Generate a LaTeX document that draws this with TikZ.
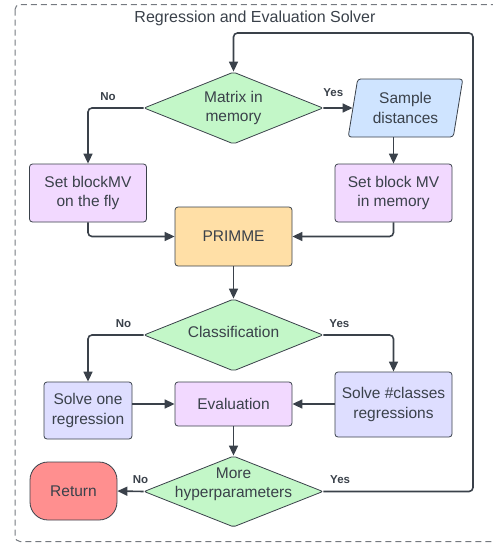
\documentclass[tikz,border=0pt]{standalone}
\usepackage{fontspec}
\setmainfont{Liberation Sans}
\usetikzlibrary{arrows.meta,shapes.geometric}
\definecolor{ink}{HTML}{3A414A}
\definecolor{mint}{HTML}{C3F7C8}
\definecolor{sky}{HTML}{CFE4FF}
\definecolor{lilac}{HTML}{F2D9FF}
\definecolor{peach}{HTML}{FFDFA6}
\definecolor{lavender}{HTML}{DEDEFF}
\definecolor{salmon}{HTML}{FF8F8F}
% text of a decision diamond, kept out of the shape's size
\newcommand\dtext[2][0pt]{\makebox[0pt]{\raisebox{#1}{\begin{tabular}{@{}c@{}}#2\end{tabular}}}}

\begin{document}
\begin{tikzpicture}[x=1pt,y=-1pt,>={Triangle[length=10pt,width=9pt]},
    every node/.style={text=ink,font=\fontsize{15.5}{19.3}\selectfont},
    box/.style={draw=ink,line width=0.8pt,rounded corners=3pt,align=center,inner sep=2pt,minimum width=117pt},
    decision/.style={diamond,draw=ink,line width=0.8pt,fill=mint,rounded corners=2pt,inner sep=0pt,
        minimum width=179pt,minimum height=72pt,text height=0pt,text depth=0pt},
    io/.style={trapezium,trapezium left angle=78,trapezium right angle=102,trapezium stretches=true,
        draw=ink,line width=0.8pt,fill=sky,rounded corners=3pt,align=center,inner sep=0pt,
        minimum width=115pt,minimum height=58pt},
    term/.style={draw=ink,line width=0.8pt,fill=salmon,rounded corners=18pt,minimum width=87pt,minimum height=58pt},
    flow/.style={draw=ink,line width=1.6pt,rounded corners=4pt,->},
    lbl/.style={font=\bfseries\fontsize{11.5}{13}\selectfont,inner sep=0pt},
    frame/.style={draw=ink!70,line width=1pt,dash pattern=on 6pt off 4pt,rounded corners=5pt}]
  \useasboundingbox (0,0) rectangle (493,544);
  \draw[frame] (15,4.5) rectangle (500,541.5);
  \node[anchor=base,font=\fontsize{16}{19.3}\selectfont] (title) at (255,22.7) {Regression and Evaluation Solver};

  \node[decision] (mtx) at (233.5,108) {\dtext[-3.6pt]{Matrix in\\memory}};
  \node[io] (sd) at (405.5,108) {Sample\\distances};
  \node[box,fill=lilac,minimum height=58pt] (fly) at (88,193) {Set blockMV\\on the fly};
  \node[box,fill=lilac,minimum height=58pt] (mem) at (393.5,193) {Set block MV\\in memory};
  \node[box,fill=peach,minimum height=59pt] (prm) at (233.5,236.5) {PRIMME};
  \node[decision] (cls) at (233.5,335) {\dtext[-2.7pt]{Classification}};
  \node[box,fill=lavender,minimum width=88pt,minimum height=57pt] (one) at (88,410.5) {Solve one\\regression};
  \node[box,fill=lilac,minimum height=44pt] (eval) at (233.5,404) {Evaluation};
  \node[box,fill=lavender,minimum height=65pt] (many) at (393.5,404.5) {Solve \#classes\\regressions};
  \node[decision,minimum height=71pt] (more) at (233.5,491.5) {\dtext[3.6pt]{More\\hyperparameters}};
  \node[term] (ret) at (73.5,491) {Return};
  \coordinate (loop) at (473,33);

  \draw[flow] (mtx.west) -| node[lbl,pos=.32,above=7pt] (no1) {No} (fly.north);
  \draw[flow] (mtx.east) -- node[lbl,pos=.34,above=11pt] (yes1) {Yes} (sd);
  \draw[flow] (mem.north |- sd.south) -- (mem.north);
  \draw[flow] (fly.south) |- (prm.west);
  \draw[flow] (mem.south) |- (prm.east);
  \draw[flow] (prm.south) -- (cls.north);
  \draw[flow] (cls.west) -| node[lbl,pos=.18,above=7pt] (no2) {No} (one.north);
  \draw[flow] (cls.east) -| node[lbl,pos=.114,above=7pt] (yes2) {Yes} (many.north);
  \draw[flow] (one.east |- eval.west) -- (eval.west);
  \draw[flow] (many.west |- eval.east) -- (eval.east);
  \draw[flow] (eval.south) -- (more.north);
  \draw[flow] (more.west) -- node[lbl,pos=.12,above=7.5pt] (no3) {No} (ret.east);
  \draw[flow] (more.east) -| node[lbl,pos=.056,above=7.5pt] (yes3) {Yes} (loop) -| (mtx.north);
\end{tikzpicture}
\end{document}
